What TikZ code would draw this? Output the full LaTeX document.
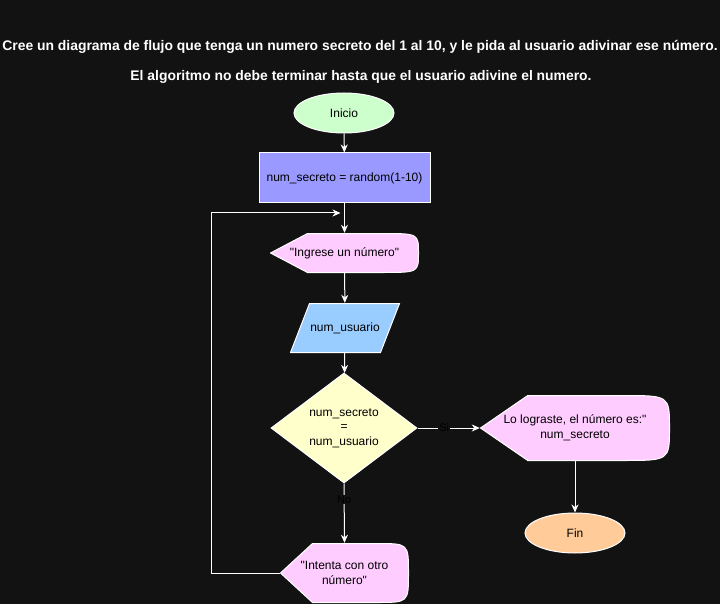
\documentclass[tikz,border=0pt]{standalone}
\usepackage{fontspec}
\setmainfont{Liberation Sans}
\usetikzlibrary{arrows.meta,shapes.geometric,calc}

\definecolor{bgdark}{HTML}{121212}
\definecolor{startfill}{HTML}{CCFFCC}
\definecolor{procfill}{HTML}{9999FF}
\definecolor{dispfill}{HTML}{FFCCFF}
\definecolor{iofill}{HTML}{99CCFF}
\definecolor{condfill}{HTML}{FFFFCC}
\definecolor{endfill}{HTML}{FFCC99}

\begin{document}
\begin{tikzpicture}[x=1pt,y=-1pt, font=\fontsize{12}{14.5}\selectfont,
  box/.style={draw=white, line width=1pt, text=black, align=center, inner sep=2pt},
  dispbox/.style={rectangle, text=black, align=center, inner sep=0pt,
    path picture={
      \path[fill=#1, draw=white, line width=1pt]
        let \p1=([shift={(0.5pt,-0.5pt)}]path picture bounding box.north west),
            \p2=([shift={(-0.5pt,0.5pt)}]path picture bounding box.south east),
            \p3=($(\p1)!0.25!(\p1-|\p2)$),
            \p4=(path picture bounding box.center)
        in (\x1,\y4) -- (\x3,\y1) -- ({\x2-\x3+\x1},\y1)
           .. controls (\x2,\y1) .. (\x2,\y4)
           .. controls (\x2,\y2) .. ({\x2-\x3+\x1},\y2)
           -- (\x3,\y2) -- cycle;
    }},
  iobox/.style={rectangle, text=black, align=center, inner sep=0pt,
    path picture={
      \path[fill=#1, draw=white, line width=1pt]
        let \p1=([shift={(0.5pt,-0.5pt)}]path picture bounding box.north west),
            \p2=([shift={(-0.5pt,0.5pt)}]path picture bounding box.south east)
        in (\x1,\y2) -- ({\x1+19pt},\y1) -- (\x2,\y1) -- ({\x2-19pt},\y2) -- cycle;
    }},
  flow/.style={draw=white, line width=1pt, -{Stealth[length=8pt,width=7pt,inset=2.5pt]}},
  edgelabel/.style={fill=bgdark, text=black, inner sep=1pt, font=\fontsize{11}{13}\selectfont},
  title/.style={text=white, font=\bfseries\fontsize{13.9}{16}\selectfont}
]
\useasboundingbox (0,0) rectangle (720,604);
\fill[bgdark] (0,0) rectangle (720,604);

% enunciado
\node[title] (title1) at (360,47) {Cree un diagrama de flujo que tenga un numero secreto del 1 al 10, y le pida al usuario adivinar ese número.};
\node[title] (title2) at (361,77) {El algoritmo no debe terminar hasta que el usuario adivine el numero.};

% bloques
\node[box, ellipse, fill=startfill, minimum width=100pt, minimum height=40pt] (inicio) at (344,113) {Inicio};
\node[box, rectangle, fill=procfill, minimum width=171pt, minimum height=50pt] (secreto) at (344.5,178) {num\_secreto = random(1-10)};
\node[dispbox=dispfill, minimum width=149pt, minimum height=40pt] (ingrese) at (344.5,253) {\textquotedbl Ingrese un número\textquotedbl};
\node[iobox=iofill, minimum width=110pt, minimum height=50pt] (leer) at (345,328) {num\_usuario};
\node[box, diamond, fill=condfill, minimum width=146pt, minimum height=110pt, inner sep=0pt] (cond) at (344,428) {num\_secreto\\=\\num\_usuario};
\node[dispbox=dispfill, minimum width=190pt, minimum height=66pt] (logro) at (575,428) {Lo lograste, el número es:\textquotedbl\\num\_secreto};
\node[box, ellipse, fill=endfill, minimum width=100pt, minimum height=40pt] (fin) at (575,533) {Fin};
\node[dispbox=dispfill, minimum width=129pt, minimum height=60pt] (intenta) at (344.5,573) {\textquotedbl Intenta con otro\\número\textquotedbl};

\coordinate (vuelta) at (211,213);
\coordinate (union) at (344.5,213);

% conectores
\draw[flow] (inicio) -- (secreto);
\draw[flow] (secreto) -- (ingrese);
\draw[flow] (ingrese) -- (leer);
\draw[flow] (leer) -- (cond);
\draw[flow] (cond.east) -- node[edgelabel, pos=0.43] {Si} (logro.west);
\draw[flow] (logro) -- (fin);
\draw[flow] (cond.south) -- node[edgelabel, pos=0.27] {No} (intenta.north);
\draw[flow, shorten >=4pt] (intenta.west) -| (vuelta) -- (union);
\end{tikzpicture}
\end{document}
